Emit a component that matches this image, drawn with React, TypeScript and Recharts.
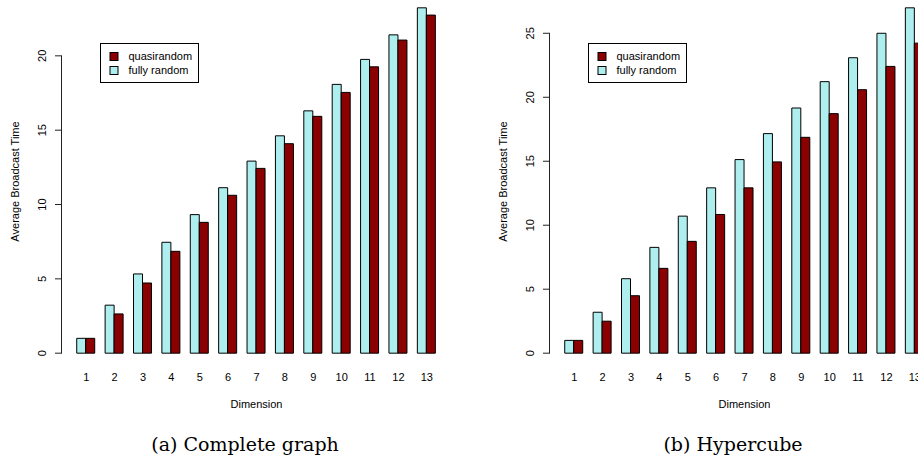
import React from 'react';
import { BarChart, Bar, XAxis, YAxis, Legend, ReferenceLine, Label } from 'recharts';

// Values (average broadcast time per dimension)
const dimensions = ['1', '2', '3', '4', '5', '6', '7', '8', '9', '10', '11', '12', '13'];

const completeFullyRandom = [1.0, 3.23, 5.33, 7.46, 9.32, 11.13, 12.92, 14.62, 16.3, 18.08, 19.76, 21.41, 23.23];
const completeQuasirandom = [1.0, 2.64, 4.72, 6.85, 8.8, 10.62, 12.43, 14.09, 15.93, 17.54, 19.26, 21.06, 22.74];

const hypercubeFullyRandom = [1.0, 3.2, 5.82, 8.27, 10.71, 12.92, 15.13, 17.16, 19.16, 21.22, 23.09, 25.0, 26.99];
const hypercubeQuasirandom = [1.0, 2.5, 4.49, 6.63, 8.74, 10.84, 12.92, 14.95, 16.87, 18.72, 20.59, 22.41, 24.23];

const completeTicks = [0, 5, 10, 15, 20];
const hypercubeTicks = [0, 5, 10, 15, 20, 25];

const FULLY_COLOR = '#AEEEEE';
const QUASI_COLOR = '#8B0000';
const AXIS_COLOR = '#222';
const SANS = '"Liberation Sans", Arial, Helvetica, sans-serif';
const SERIF = '"DejaVu Serif", "Liberation Serif", serif';

const CHART_W = 460;
const CHART_H = 468;
const Y_AXIS_W = 62;
const X_AXIS_H = 95;

const renderXTick = (props: any) => {
  const { x, y, payload } = props;
  return (
    <text x={x} y={y + 10} dy="0.35em" textAnchor="middle" fontSize={11} fill="#000">
      {payload.value}
    </text>
  );
};

const renderYTick = (props: any) => {
  const { x, y, payload } = props;
  const cx = x - 20;
  return (
    <g>
      <line x1={x - 7} x2={x} y1={y} y2={y} stroke={AXIS_COLOR} strokeWidth={1} />
      <text
        x={cx}
        y={y}
        dy="0.35em"
        textAnchor="middle"
        fontSize={11}
        fill="#000"
        transform={`rotate(-90 ${cx} ${y})`}
      >
        {payload.value}
      </text>
    </g>
  );
};

// R draws the y axis only between the first and last tick
const renderSpine = (props: any) => (
  <line
    x1={Y_AXIS_W - 0.5}
    x2={Y_AXIS_W - 0.5}
    y1={props.y1}
    y2={props.y2}
    stroke={AXIS_COLOR}
    strokeWidth={1}
  />
);

const renderYTitle = (props: any) => {
  const vb = props.viewBox;
  const cx = vb.x + 15;
  const cy = vb.y + vb.height / 2 + 1;
  return (
    <text
      x={cx}
      y={cy}
      dy="0.35em"
      textAnchor="middle"
      fontSize={11}
      fill="#000"
      transform={`rotate(-90 ${cx} ${cy})`}
    >
      Average Broadcast Time
    </text>
  );
};

const renderLegend = (props: any) => {
  const items = [...(props.payload || [])].reverse();
  return (
    <svg width={99} height={40} style={{ display: 'block' }}>
      <rect x={0.5} y={0.5} width={98} height={39} fill="#fff" stroke="#000" />
      {items.map((item: any, i: number) => (
        <g key={item.value}>
          <rect x={10} y={9.5 + i * 14} width={8} height={8} fill={item.color} stroke="#000" />
          <text x={28.5} y={13.5 + i * 14} dy="0.35em" fontSize={11} fill="#000" fontFamily={SANS}>
            {item.value}
          </text>
        </g>
      ))}
    </svg>
  );
};

interface PanelProps {
  fully: number[];
  quasi: number[];
  ticks: number[];
  caption: string;
  left: number;
}

const Panel: React.FC<PanelProps> = ({ fully, quasi, ticks, caption, left }) => {
  const data = dimensions.map((dim, i) => ({ dim, fully: fully[i], quasi: quasi[i] }));
  // barplot's default ylim: 0..max, widened by 4%
  const top = Math.max(...fully, ...quasi);
  const pad = top * 0.04;
  const lastTick = ticks[ticks.length - 1];

  const renderXLabels = (props: any) => {
    const vb = props.viewBox;
    const mid = vb.x + vb.width / 2;
    return (
      <g>
        <text x={mid} y={vb.y + 37} dy="0.35em" textAnchor="middle" fontSize={11} fill="#000">
          Dimension
        </text>
        <text x={mid - 11.5} y={vb.y + 84} textAnchor="middle" fontSize={19} fill="#000" fontFamily={SERIF}>
          {caption}
        </text>
      </g>
    );
  };

  return (
    <div style={{ position: 'absolute', left, top: -6, fontFamily: SANS }}>
      <BarChart
        width={CHART_W}
        height={CHART_H}
        data={data}
        margin={{ top: 0, right: 9, bottom: 0, left: 0 }}
        barGap={0}
        barCategoryGap="16.67%"
      >
        <XAxis
          dataKey="dim"
          interval={0}
          axisLine={false}
          tickLine={false}
          tickSize={0}
          tickMargin={0}
          height={X_AXIS_H}
          padding={{ left: 10, right: 10 }}
          tick={renderXTick}
        >
          <Label content={renderXLabels} />
        </XAxis>
        <YAxis
          type="number"
          domain={[-pad, top + pad]}
          allowDataOverflow
          ticks={ticks}
          width={Y_AXIS_W}
          axisLine={false}
          tickLine={false}
          tickSize={0}
          tickMargin={0}
          tick={renderYTick}
        >
          <Label content={renderYTitle} />
        </YAxis>
        <ReferenceLine
          segment={[
            { x: dimensions[0], y: 0 },
            { x: dimensions[0], y: lastTick },
          ]}
          shape={renderSpine}
        />
        <Bar dataKey="fully" name="fully random" fill={FULLY_COLOR} stroke="#000" strokeWidth={1} isAnimationActive={false} />
        <Bar dataKey="quasi" name="quasirandom" fill={QUASI_COLOR} stroke="#000" strokeWidth={1} isAnimationActive={false} />
        <Legend
          layout="horizontal"
          verticalAlign="middle"
          align="center"
          content={renderLegend}
          wrapperStyle={{ left: 100, top: 49, width: 99, height: 40 }}
        />
      </BarChart>
    </div>
  );
};

const App: React.FC = () => (
  <div
    style={{
      position: 'absolute',
      left: 0,
      top: 0,
      width: 918,
      height: 462,
      overflow: 'hidden',
      background: '#fff',
    }}
  >
    <Panel
      fully={completeFullyRandom}
      quasi={completeQuasirandom}
      ticks={completeTicks}
      caption="(a) Complete graph"
      left={0}
    />
    <Panel
      fully={hypercubeFullyRandom}
      quasi={hypercubeQuasirandom}
      ticks={hypercubeTicks}
      caption="(b) Hypercube"
      left={488}
    />
  </div>
);

export default App;
